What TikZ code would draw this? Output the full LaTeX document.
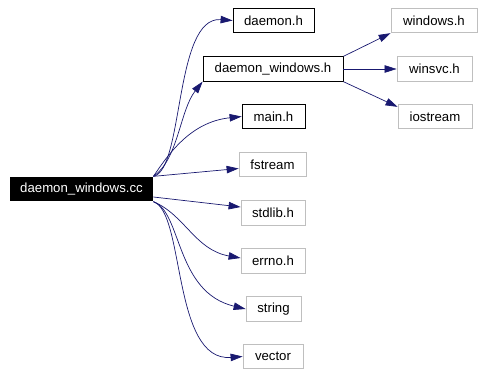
\documentclass[tikz,border=0pt]{standalone}
\usepackage{xcolor}
\usepackage{fontspec}
\setmainfont{Liberation Sans}
\usepackage{tikz}
\usetikzlibrary{arrows.meta,positioning,calc}

\definecolor{edgeblue}{RGB}{25,25,112}
\definecolor{boxgray}{RGB}{191,191,191}

\begin{document}
\begin{tikzpicture}[
        x=1pt, y=-1pt,
        >={Triangle[length=12pt,width=7.5pt]},
        base/.style={rectangle, align=center, inner sep=0pt, minimum height=24.5pt, font=\fontsize{13.2}{15}\selectfont, line width=0.8pt},
        rootfile/.style={base, fill=black, text=white},
        header/.style={base, draw=black},
        sysheader/.style={base, draw=boxgray},
        dep/.style={->, draw=edgeblue, line width=0.7pt}
    ]
        \useasboundingbox (0,0) rectangle (484,375);

        % the source file and what it pulls in
        \node[rootfile, minimum width=143pt] (cc) at (81.5,189) {daemon\_windows.cc};
        \node[header, minimum width=81pt] (daemonh) at (273.5,20.5) {daemon.h};
        \node[header, minimum width=140pt] (dwh) at (273,69) {daemon\_windows.h};
        \node[header, minimum width=63pt] (mainh) at (273.5,116.5) {main.h};
        \node[sysheader, minimum width=67pt] (fstream) at (272.5,164.5) {fstream};
        \node[sysheader, minimum width=64pt] (stdlib) at (273,213) {stdlib.h};
        \node[sysheader, minimum width=64pt] (errno) at (273,261) {errno.h};
        \node[sysheader, minimum width=55pt] (string) at (273.5,309) {string};
        \node[sysheader, minimum width=60pt] (vector) at (273,356.5) {vector};

        % second level, from daemon_windows.h
        \node[sysheader, minimum width=86pt] (windows) at (434,20.5) {windows.h};
        \node[sysheader, minimum width=75pt] (winsvc) at (434.5,69) {winsvc.h};
        \node[sysheader, minimum width=74pt] (iostream) at (435,116.5) {iostream};

        \draw[dep] (cc.north east) .. controls (184,170) and (174,16) .. (daemonh.west);
        \draw[dep] (cc.north east) .. controls (178,160) and (180,110) .. (dwh.south west);
        \draw[dep] (cc.north east) .. controls (168,155) and (190,122) .. (mainh.west);
        \draw[dep] (cc.north east) -- ([yshift=-4pt]fstream.west);
        \draw[dep] ([yshift=-8pt]cc.east) -- ([yshift=6pt]stdlib.west);
        \draw[dep] (cc.south east) .. controls (185,215) and (195,250) .. ([yshift=3pt]errno.west);
        \draw[dep] (cc.south east) .. controls (182,212) and (175,292) .. (string.west);
        \draw[dep] (cc.south east) .. controls (185,212) and (172,362) .. (vector.west);

        \draw[dep] (dwh.north east) -- (windows.south west);
        \draw[dep] (dwh.east) -- (winsvc.west);
        \draw[dep] (dwh.south east) -- ([yshift=-3pt]iostream.north west);
\end{tikzpicture}
\end{document}
